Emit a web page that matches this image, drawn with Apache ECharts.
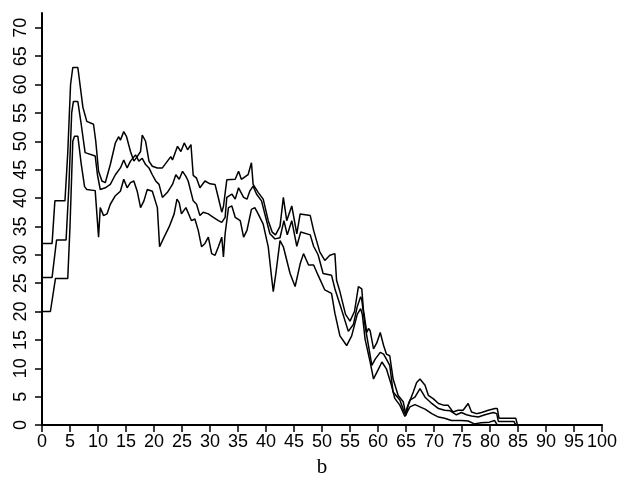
<!DOCTYPE html>
<html>
<head>
<meta charset="utf-8">
<script src="https://cdn.jsdelivr.net/npm/echarts@6/dist/echarts.min.js"></script>
<style>
	html, body { margin:0; padding:0; background:#fff; }
	#chart { width:628px; height:483px; }
</style>
</head>
<body>
<div id="chart"></div>
<script>
// tick values on both axes
var xTicks = [0, 5, 10, 15, 20, 25, 30, 35, 40, 45, 50, 55, 60, 65, 70, 75, 80, 85, 90, 95, 100];
var yTicks = [0, 5, 10, 15, 20, 25, 30, 35, 40, 45, 50, 55, 60, 65, 70];

// upper curve  [x, y]
var upperLine = [
	[0,32],[1.8,32],[2.3,39.5],[4.1,39.5],[4.6,48],[5.1,60],[5.5,63],[6.4,63],[7.3,56],[8,53.5],
	[9.2,53],[9.6,50],[10.1,44.7],[10.7,43],[11.3,42.7],[12.2,45.9],[13.1,49.7],[13.7,50.8],[14,50.2],[14.6,51.7],
	[15.1,50.8],[15.8,48.2],[16.4,46.5],[17,47.3],[17.6,48.2],[17.9,51.1],[18.5,50],[19.1,46.5],[19.7,45.6],[20.6,45.3],
	[21.5,45.3],[22.4,46.5],[23,47.3],[23.3,46.7],[24.2,49.1],[24.8,48.2],[25.4,49.7],[26,48.5],[26.6,49.4],[27,44],
	[27.6,43.5],[28.2,41.8],[29.1,43],[30,42.5],[30.9,42.4],[31.5,40],[32.1,37.5],[32.4,38.5],[33,43.2],[34.5,43.3],
	[35.1,44.7],[35.6,43.3],[36.8,44.1],[37.4,46.2],[37.7,42.4],[38.6,41],[39.5,39.8],[40.4,36],[41.1,34],[41.7,33.5],
	[42.5,35],[43.1,40.1],[43.7,36],[44.6,38.6],[45.5,33.7],[46.1,37.2],[47.9,36.9],[48.5,34.3],[49.6,30.5],[50.5,29],
	[51.4,29.9],[52.3,30.2],[52.6,25.5],[53.2,23.5],[54.2,19.5],[55,18.3],[55.8,20],[56.5,24.4],[57.1,24],[57.4,20.3],
	[58,16.3],[58.3,17],[58.6,16.6],[59.2,13.4],[59.8,14.5],[60.4,16.3],[61,14],[61.5,12.5],[62.1,12.2],[62.7,8.1],
	[63.6,5.2],[64.5,4.1],[65,1.7],[65.4,3.5],[66.3,5.8],[66.9,7.5],[67.5,8.1],[68.4,7],[69,5.2],[69.9,4.6],
	[70.8,3.8],[71.7,3.5],[72.5,3.5],[73.4,2.3],[74.3,2.6],[75.2,2.6],[76.1,3.8],[76.7,2.3],[77.6,2],[78.5,2.2],
	[79.7,2.6],[80.9,2.9],[81.3,2.9],[81.6,1.2],[84.6,1.2],[84.9,0]
];

// middle curve
var middleLine = [
	[0,26],[1.8,26],[2.6,32.6],[4.3,32.6],[4.8,42],[5.3,55],[5.6,57],[6.4,57],[7,53],[7.7,48],
	[9.5,47.4],[9.9,44.1],[10.4,41.5],[11.3,41.8],[12.2,42.4],[13.1,44.1],[14,45.3],[14.6,46.7],[15.2,45.3],[15.8,46.5],
	[16.7,47.6],[17.3,46.5],[17.9,47],[18.5,45.9],[19.1,45.3],[19.7,44.1],[20.3,43],[20.9,42.4],[21.5,40.1],[22.4,41],
	[23.3,42.4],[23.9,44.1],[24.5,43.3],[25.1,44.7],[25.7,43.8],[26.1,43],[27,39.5],[27.6,38.9],[28.2,36.9],[28.8,37.5],
	[29.7,37.2],[30.6,36.6],[31.5,36],[32.1,35.7],[32.7,36.6],[33,40.1],[33.9,40.7],[34.5,39.8],[35.1,41.8],[36,40.1],
	[36.6,39.8],[37.1,41.2],[37.7,42.1],[38.3,40.7],[39.2,39.5],[40.1,36],[40.7,33.7],[41.6,32.8],[42.5,33],[43.2,36],
	[43.8,33.5],[44.6,36],[45.5,31.5],[46.2,34],[47.9,33.5],[48.5,31.5],[49.3,30],[50.2,26.7],[51.7,26.4],[52.3,24],
	[53.5,20.3],[54.7,16.5],[55.6,17.7],[56.3,20.9],[56.9,22.6],[57.1,22.1],[57.7,17.4],[58.3,14],[58.9,10.5],[59.5,11.6],
	[60.4,12.8],[61,12.5],[61.5,11.6],[62.1,10.5],[62.7,5.8],[63.9,4.4],[64.8,2],[65.7,4.4],[66.6,4.9],[67.5,6.4],
	[68.4,4.9],[69.6,3.8],[70.8,2.9],[71.9,2.6],[72.9,2.5],[74,1.8],[74.9,2.2],[75.8,1.8],[76.7,1.6],[77.9,1.4],
	[79.1,1.8],[80.6,2.2],[81.2,2],[81.5,0.6],[84.3,0.6],[84.6,0]
];

// lower curve
var lowerLine = [
	[0,20],[1.5,20],[2.4,25.8],[4.6,25.8],[5,35],[5.5,50],[5.8,50.9],[6.4,50.9],[7,46],[7.6,42],
	[8,41.5],[9.5,41.3],[10.1,33.1],[10.4,38.3],[11,36.9],[11.6,37.2],[12.2,38.9],[13.1,40.4],[14,41.2],[14.6,43.3],
	[15.2,41.8],[15.8,42.7],[16.4,43],[17,41.2],[17.6,38.3],[18.2,39.5],[18.8,41.5],[19.7,41.2],[20.6,38.3],[21,31.4],
	[21.8,33.1],[22.7,34.9],[23.6,37.2],[24.1,39.8],[24.5,39.2],[24.9,37.2],[25.7,38.3],[26.7,36],[27.3,36.3],[27.9,34.3],
	[28.5,31.4],[29.1,32],[29.7,33.1],[30.3,30.2],[30.9,29.9],[31.5,31.4],[32.1,33.1],[32.4,29.6],[32.7,33.7],[33.3,38.3],
	[33.9,38.6],[34.5,36.6],[35.4,36],[36,33.1],[36.6,34.3],[37.4,38],[38,38.3],[38.6,37.2],[39.5,35.4],[40.4,31.4],
	[41,26],[41.3,23.5],[41.8,27],[42.5,32.5],[43.1,31.4],[44.3,26.7],[45.2,24.4],[46.1,28.4],[46.7,30.2],[47.6,28.2],
	[48.5,28.2],[49.3,26.4],[50.5,23.8],[51.7,23.2],[52.3,19.7],[53.2,15.7],[54.4,14],[55.3,15.7],[56.3,19.5],[56.9,20.5],
	[57.2,19.5],[57.7,15.1],[58.6,11.1],[59.2,8.1],[60.1,9.9],[60.7,11.1],[61.5,9.9],[62.4,7],[63,4.7],[63.9,3.5],
	[64.8,1.5],[65.7,3.2],[66.6,3.6],[67.5,3.2],[68.4,2.8],[69.6,2],[70.8,1.4],[71.9,1.2],[73.1,0.8],[74.9,0.8],
	[76.1,0.7],[77.2,0.2],[78.4,0.4],[79.9,0.5],[80.8,0.8],[81.3,0]
];

var labelFont = {color:'#000', fontFamily:'Liberation Sans', fontSize:18};

var lineSeries = function(data){
	return {
		type:'line',
		data:data,
		showSymbol:false,
		symbol:'none',
		silent:true,
		lineStyle:{color:'#000', width:1.5}
	};
};

var chart = echarts.init(document.getElementById('chart'), null, {renderer:'canvas'});
chart.setOption({
	animation:false,
	backgroundColor:'#fff',
	grid:{left:42, right:26, top:13, bottom:53, containLabel:false},
	xAxis:{
		type:'value',
		min:0,
		max:100,
		interval:5,
		name:'b',
		nameLocation:'middle',
		nameGap:32,
		nameTextStyle:{color:'#000', fontFamily:'Liberation Serif', fontSize:21},
		axisLine:{show:true, onZero:false, lineStyle:{color:'#000', width:2}},
		axisTick:{show:true, inside:false, length:7, lineStyle:{color:'#000', width:1.5}, customValues:xTicks},
		axisLabel:Object.assign({margin:8, customValues:xTicks}, labelFont),
		splitLine:{show:false}
	},
	yAxis:{
		type:'value',
		min:0,
		max:72.6,
		axisLine:{show:true, onZero:false, lineStyle:{color:'#000', width:2}},
		axisTick:{show:true, inside:false, length:7, lineStyle:{color:'#000', width:1.5}, customValues:yTicks},
		axisLabel:Object.assign({rotate:90, margin:12, customValues:yTicks}, labelFont),
		splitLine:{show:false}
	},
	series:[
		lineSeries(upperLine),
		lineSeries(middleLine),
		lineSeries(lowerLine)
	]
});
</script>
</body>
</html>
